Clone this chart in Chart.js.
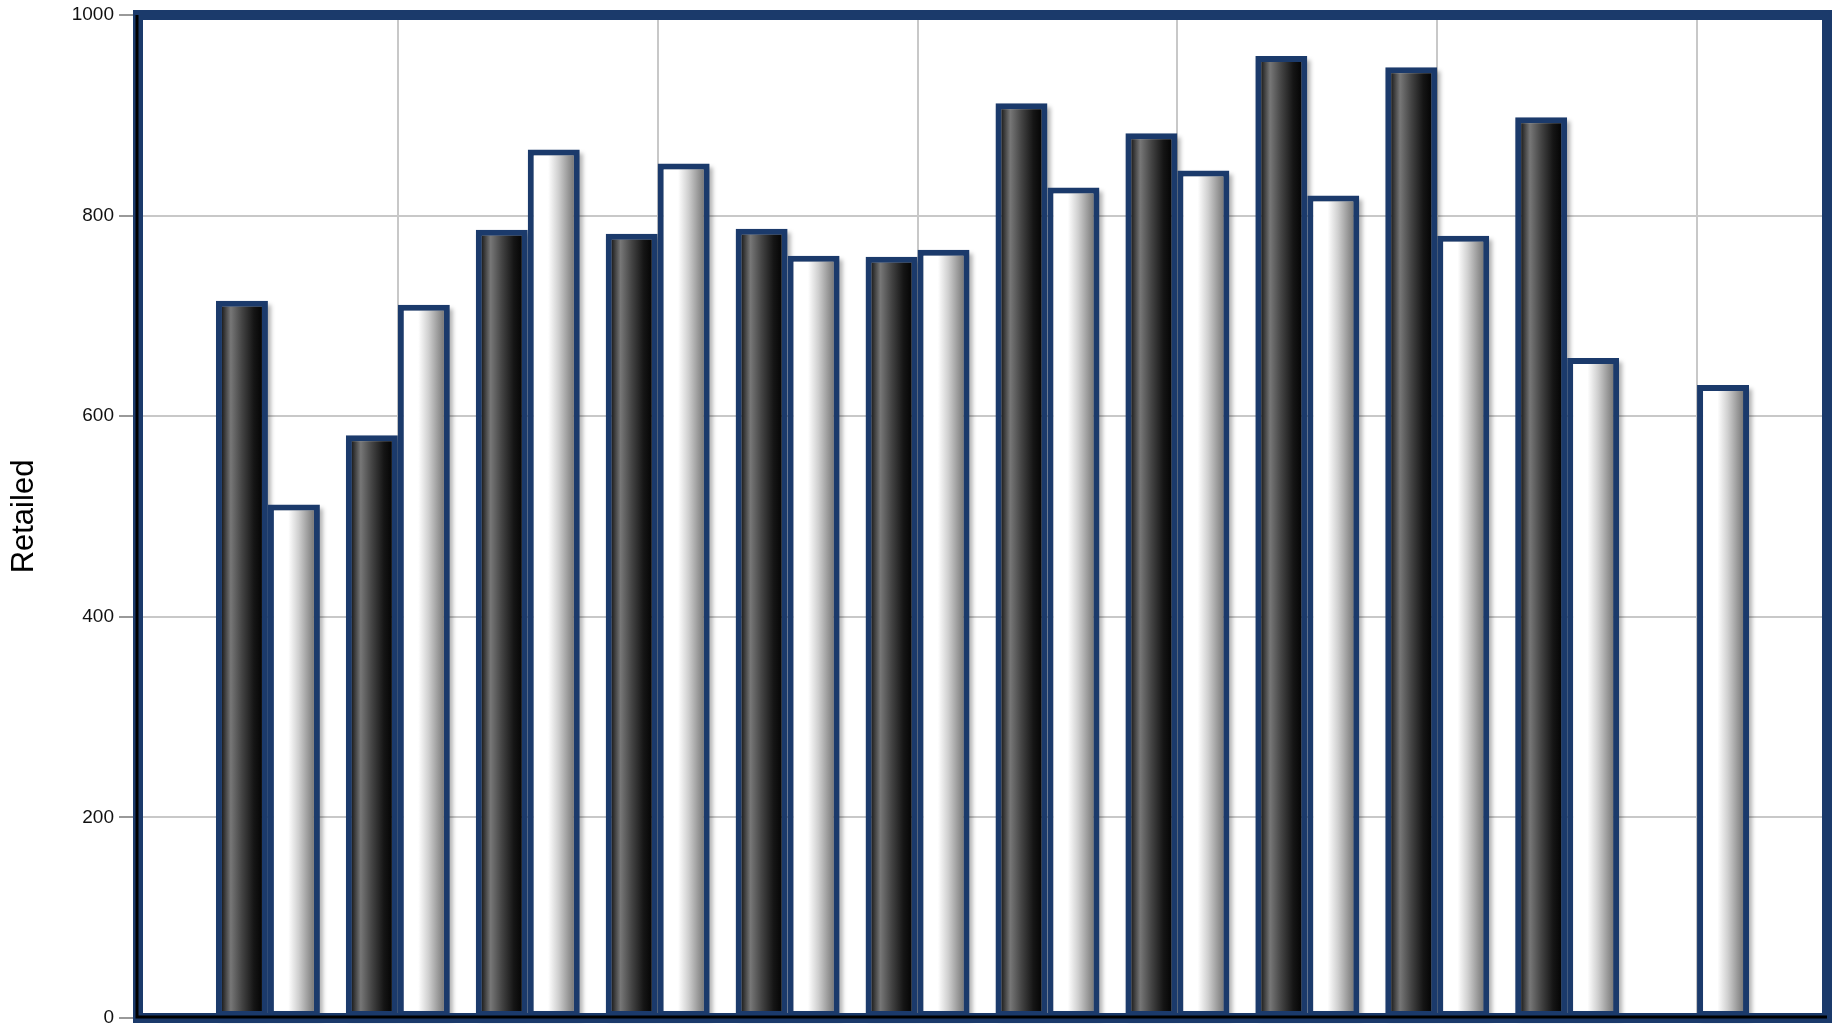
<!DOCTYPE html>
<html>
<head>
<meta charset="utf-8">
<script src="https://cdn.jsdelivr.net/npm/chart.js@4.4.1/dist/chart.umd.min.js"></script>
<style>
  html, body { margin: 0; padding: 0; background: #ffffff; overflow: hidden; }
  #wrap { width: 1832px; height: 1024px; }
</style>
</head>
<body>
<div id="wrap"><canvas id="c" width="1832" height="1024"></canvas></div>
<script>
// ---- data ----
const groups = [1, 2, 3, 4, 5, 6, 7, 8, 9, 10, 11, 12];
const darkValues  = [715, 581, 786, 782, 787, 759, 912, 882, 959, 948, 898, null];
const lightValues = [512, 711, 866, 852, 760, 766, 828, 845, 820, 780, 658, 631];
const yTicks = [0, 200, 400, 600, 800, 1000];
const yTitle = 'Retailed';

const NAVY = '#1b3a6b';
const BORDER_W = 6;

function barGradient(ctx, isDark) {
  const chart = ctx.chart;
  const xs = chart.scales && chart.scales.x;
  if (!chart.chartArea || !xs) return isDark ? '#333' : '#eee';
  const g = groups[ctx.dataIndex];
  const center = xs.getPixelForValue(g);
  const spacing = xs.getPixelForValue(1) - xs.getPixelForValue(0);
  const w = spacing * 0.8 / 2;
  const left = isDark ? center - w : center;
  const grad = chart.ctx.createLinearGradient(left + BORDER_W, 0, left + w - BORDER_W, 0);
  if (isDark) {
    grad.addColorStop(0, '#1e1e1e');
    grad.addColorStop(0.22, '#777777');
    grad.addColorStop(0.5, '#444444');
    grad.addColorStop(0.8, '#151515');
    grad.addColorStop(1, '#050505');
  } else {
    grad.addColorStop(0, '#ffffff');
    grad.addColorStop(0.36, '#ffffff');
    grad.addColorStop(0.62, '#cfcfcf');
    grad.addColorStop(1, '#7a7a7a');
  }
  return grad;
}

const shadowPlugin = {
  id: 'barShadow',
  beforeDatasetsDraw(chart) {
    const ctx = chart.ctx;
    ctx.save();
    ctx.filter = 'blur(2px)';
    ctx.fillStyle = 'rgba(0,0,0,0.30)';
    chart.data.datasets.forEach((ds, di) => {
      const meta = chart.getDatasetMeta(di);
      meta.data.forEach((el, i) => {
        if (ds.data[i] == null || ds.data[i].y == null) return;
        const p = el.getProps(['x', 'y', 'base', 'width'], true);
        ctx.fillRect(p.x - p.width / 2 + 3, p.y + 4, p.width, p.base - p.y);
      });
    });
    ctx.restore();
  }
};

const framePlugin = {
  id: 'frame',
  afterDraw(chart) {
    const a = chart.chartArea;
    const ctx = chart.ctx;
    ctx.save();
    ctx.strokeStyle = NAVY;
    ctx.lineWidth = 10;
    ctx.strokeRect(a.left, a.top, a.right - a.left, a.bottom - a.top);
    ctx.strokeStyle = '#000000';
    ctx.lineWidth = 3;
    ctx.beginPath();
    ctx.moveTo(a.left - 1, a.top);
    ctx.lineTo(a.left - 1, a.bottom - 1);
    ctx.lineTo(a.right, a.bottom - 1);
    ctx.stroke();
    ctx.restore();
  }
};

new Chart(document.getElementById('c'), {
  type: 'bar',
  data: {
    datasets: [
      {
        label: 'Series 1',
        data: groups.map((g, i) => ({ x: g, y: darkValues[i] })),
        backgroundColor: (ctx) => barGradient(ctx, true),
        borderColor: NAVY,
        borderWidth: BORDER_W,
        borderSkipped: false
      },
      {
        label: 'Series 2',
        data: groups.map((g, i) => ({ x: g, y: lightValues[i] })),
        backgroundColor: (ctx) => barGradient(ctx, false),
        borderColor: NAVY,
        borderWidth: BORDER_W,
        borderSkipped: false
      }
    ]
  },
  options: {
    responsive: false,
    devicePixelRatio: 1,
    animation: false,
    categoryPercentage: 0.8,
    barPercentage: 1.0,
    layout: { padding: { top: 15, right: 5, bottom: 6, left: 0 } },
    plugins: { legend: { display: false }, tooltip: { enabled: false } },
    scales: {
      x: {
        type: 'linear',
        min: 0,
        max: 13,
        offset: false,
        ticks: { display: false, stepSize: 2 },
        grid: { offset: false, color: '#c8c8c8', lineWidth: 2, drawTicks: false },
        border: { display: false }
      },
      y: {
        min: 0,
        max: 1000,
        afterBuildTicks(scale) { scale.ticks = yTicks.map(v => ({ value: v })); },
        afterFit(scale) { scale.width = 138; scale.paddingTop = 0; scale.paddingBottom = 0; },
        ticks: {
          padding: 5,
          color: '#111111',
          callback: (v) => String(v),
          font: { family: 'Liberation Sans, Arial, sans-serif', size: 19 }
        },
        grid: { color: '#c8c8c8', lineWidth: 2, tickLength: 19, tickColor: '#777777', tickWidth: 1.5 },
        border: { display: false },
        title: {
          display: true,
          text: yTitle,
          color: '#000000',
          padding: { top: 6, bottom: 4 },
          font: { family: 'Liberation Sans, Arial, sans-serif', size: 31 }
        }
      }
    }
  },
  plugins: [shadowPlugin, framePlugin]
});
</script>
</body>
</html>
